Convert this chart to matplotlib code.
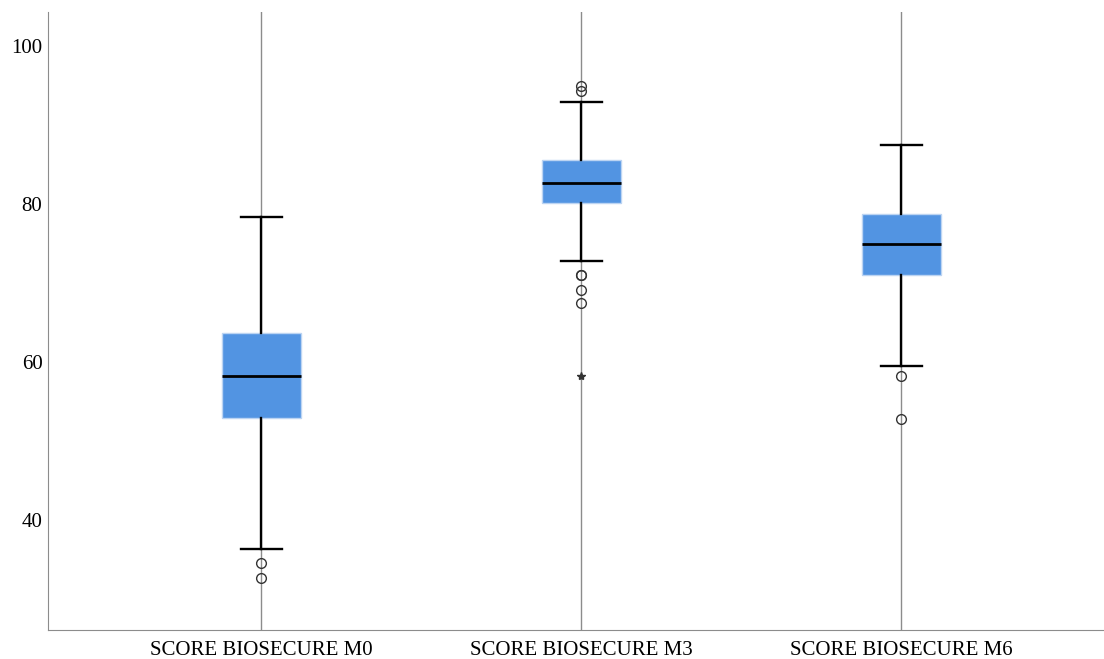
import matplotlib
matplotlib.use('Agg')
import matplotlib.pyplot as plt

labels = ['SCORE BIOSECURE M0', 'SCORE BIOSECURE M3', 'SCORE BIOSECURE M6']
whislo = [36.3, 72.8, 59.5]
q1 = [52.9, 80.1, 71.0]
med = [58.2, 82.7, 74.9]
q3 = [63.7, 85.6, 78.7]
whishi = [78.4, 92.9, 87.5]
outliers = [[34.6, 32.7], [94.9, 94.3, 71.0, 71.0, 69.1, 67.5], [58.2, 52.8]]
extremes = [[], [58.2], []]

plt.rcParams['font.family'] = ['Liberation Serif', 'DejaVu Serif']

fig = plt.figure(figsize=(11.04, 6.59), dpi=100)
ax = fig.add_axes([0.0435, 0.044, 0.9565, 0.938])

stats = []
for i in range(len(labels)):
    stats.append(dict(label=labels[i], whislo=whislo[i], q1=q1[i], med=med[i],
                      q3=q3[i], whishi=whishi[i], fliers=outliers[i]))

pos = list(range(len(labels)))
for p in pos:
    ax.axvline(p, color='#8c8c8c', lw=1, zorder=0)

ax.bxp(stats, positions=pos, widths=0.247, capwidths=0.128, patch_artist=True,
       boxprops=dict(facecolor='#5294e2', edgecolor='#bcd4f2', lw=1),
       medianprops=dict(color='black', lw=2),
       whiskerprops=dict(color='black', lw=1.7),
       capprops=dict(color='black', lw=1.7),
       flierprops=dict(marker='o', markerfacecolor='none', markeredgecolor='#333333',
                       markersize=7, markeredgewidth=1))

for i, ex in enumerate(extremes):
    if ex:
        ax.plot([pos[i]] * len(ex), ex, linestyle='none', marker='*', color='#333333',
                markersize=6)

ax.set_xlim(-0.666, 0.634 + 2)
ax.set_ylim(26.1, 104.3)
ax.set_yticks([40, 60, 80, 100])
ax.set_xticks(pos)
ax.set_xticklabels(labels)
ax.tick_params(length=0, labelsize=15, colors='black')
ax.tick_params(axis='x', pad=8)
ax.tick_params(axis='y', pad=4)
ax.spines['top'].set_visible(False)
ax.spines['right'].set_visible(False)
ax.spines['left'].set_color('#8c8c8c')
ax.spines['bottom'].set_color('#8c8c8c')

plt.savefig('out.png')
